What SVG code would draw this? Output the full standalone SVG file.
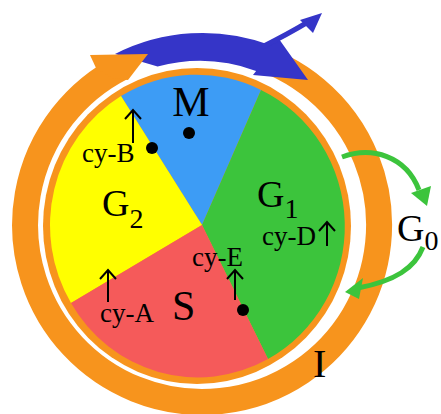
<svg xmlns="http://www.w3.org/2000/svg" width="441" height="414" viewBox="0 0 441 414">
<style>
.t{font-family:"Liberation Serif","Times New Roman",serif;fill:#000}
.lbl{font-size:27px}
.big{font-size:40px}
.sub{font-size:28px}
.arr{stroke:#000;stroke-width:2;fill:none}
.dot{fill:#000}
.org{fill:#f7941d}
.grn{fill:#3cc43c}
.garr{stroke:#3cc43c;stroke-width:5;fill:none}
.blu{fill:#3535c8}
</style>
<rect width="441" height="414" fill="#fff"/>
<g id="rings">
  <path d="M247.8 54 A177 177 0 1 1 121.7 67.3" stroke="#f7941d" stroke-width="26" fill="none"/>
  <ellipse class="org" cx="197" cy="226" rx="154" ry="158"/>
</g>
<g id="cycle-arrow">
  <path class="blu" d="M115 54 A193 193 0 0 1 269.2 44.8 L279 39 L308 80 L253 75 L256.1 70.9 A164 164 0 0 0 157.6 66.6 Z"/>
  <path class="org" d="M96 68 L90 55 L148 54 L128 80 L112 78 Z"/>
  <path d="M262 47 Q288 34 308 22" stroke="#3535c8" stroke-width="5" fill="none"/>
  <polygon class="blu" points="300,20 322,13 313,33"/>
</g>
<g id="M">
  <path d="M202 225 L121 96 A147 151 0 0 1 261 90 Z" fill="#3d9cf5"/>
  <text class="t" x="191" y="116" text-anchor="middle" style="font-size:42px">M</text>
  <circle class="dot" cx="189" cy="133" r="6"/>
</g>
<g id="G1">
  <path d="M202 225 L261 90 A147 151 0 0 1 268 359 Z" fill="#3cc43c"/>
  <text class="t" x="257" y="207" style="font-size:38px">G<tspan class="sub" dy="11">1</tspan></text>
  <text class="t lbl" x="262" y="245">cy-D</text>
  <path class="arr" d="M327 246 V222 M319 231 L327 222 L335 231"/>
</g>
<g id="G2">
  <path d="M202 225 L71 303 A147 151 0 0 1 121 96 Z" fill="#ffff00"/>
  <text class="t" x="102" y="216" style="font-size:38px">G<tspan class="sub" dy="12">2</tspan></text>
  <text class="t lbl" x="82" y="162">cy-B</text>
  <path class="arr" d="M133 143 V110 M125 119 L133 110 L141 119"/>
  <circle class="dot" cx="152" cy="148" r="6"/>
</g>
<g id="S">
  <path d="M202 225 L268 359 A147 151 0 0 1 71 303 Z" fill="#f55a5a"/>
  <text class="t" x="172" y="320" style="font-size:42px">S</text>
  <text class="t lbl" x="100" y="322">cy-A</text>
  <path class="arr" d="M108 302 V270 M100 279 L108 270 L116 279"/>
  <text class="t lbl" x="192" y="266">cy-E</text>
  <path class="arr" d="M235 300 V270 M227 279 L235 270 L243 279"/>
  <circle class="dot" cx="243" cy="310" r="6"/>
</g>
<g id="connectors">
  <path class="garr" d="M342 157 C372 146 406 156 419 190"/>
  <polygon class="grn" points="411,193 431,186 427,206"/>
  <path class="garr" d="M423 247 C415 268 395 281 358 288"/>
  <polygon class="grn" points="345,292 363,278 359,299"/>
</g>
<g id="G0">
  <text class="t" x="397" y="241" style="font-size:38px">G<tspan class="sub" dy="9">0</tspan></text>
</g>
<g id="I">
  <text class="t big" x="313" y="377">I</text>
</g>
</svg>
